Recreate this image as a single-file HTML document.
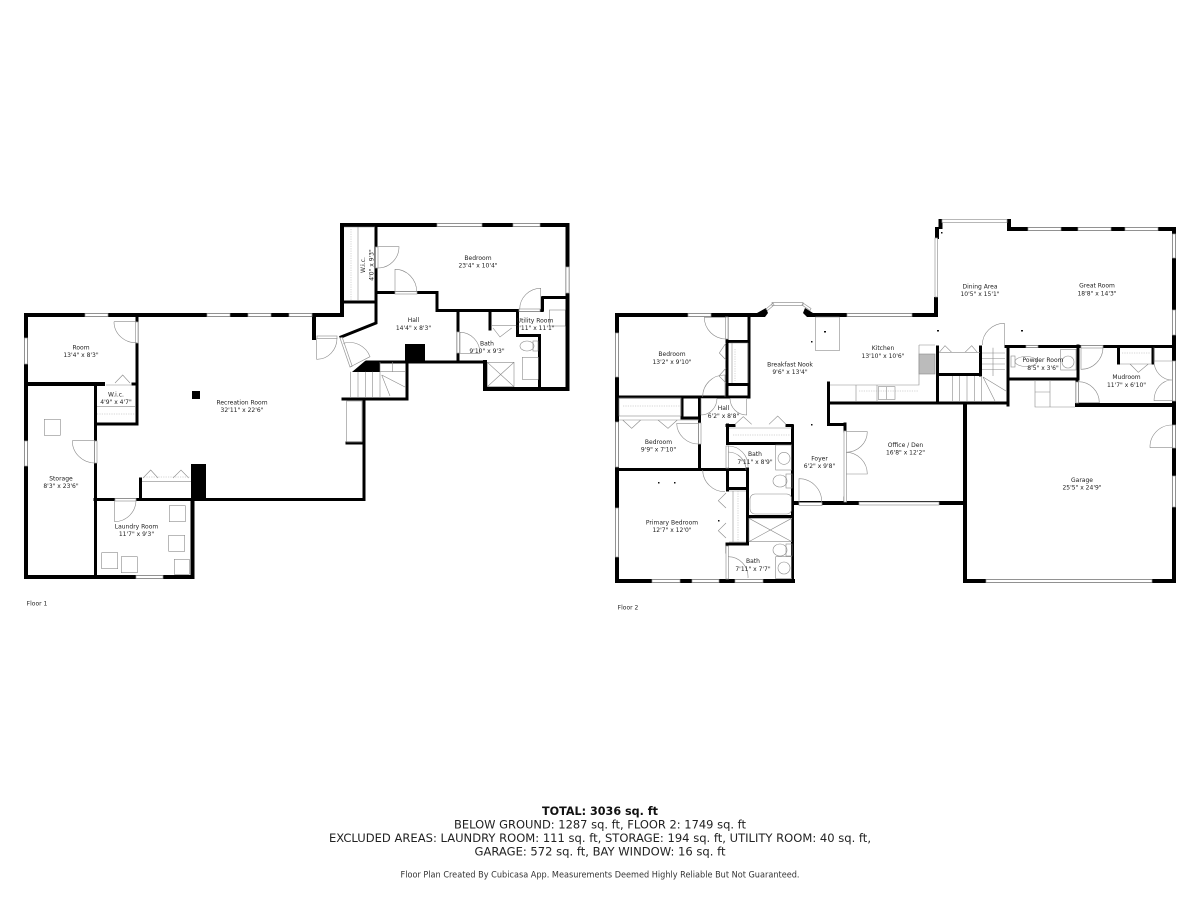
<!DOCTYPE html>
<html><head><meta charset="utf-8"><style>
html,body{margin:0;padding:0;background:#fff}svg{display:block;filter:blur(.3px)}
text{font-family:"DejaVu Sans",sans-serif;fill:#222;font-size:6px;text-anchor:middle}
.w{fill:none;stroke:#000;stroke-linecap:square;stroke-linejoin:miter}
.g{fill:none;stroke:#8a8a8a;stroke-width:.6}
.win{fill:#fff;stroke:#999;stroke-width:.7}
.d{fill:none;stroke:#aaa;stroke-width:.5;stroke-dasharray:1.2 1.2}
</style></head><body>
<svg width="1200" height="900" viewBox="0 0 1200 900" xmlns="http://www.w3.org/2000/svg">
<rect width="1200" height="900" fill="#fff"/>

<!-- FLOOR 1 walls -->
<g class="w" stroke-width="4">
<path d="M26 315H342M26 315V577H192.500V500M26 384H103"/>
<path d="M342 225H567.500V389H485V362M342 225V315H314V338"/>
</g>
<g class="w" stroke-width="3">
<path d="M95.500 385V577M137 315V424H97M95 499.500H364M140.500 479V498M364 400V499M407 362V399H343M367 362H485"/>
<path d="M376 226V323L341 337M343 302H375M377 292.500H437V310.500H542M458 311V361M490 311V329M517.500 311V335.500H539.500V388M543 297.500H566M542.500 298V310M347 443H362M133 384H135"/>
</g>
<path fill="#000" d="M191 464h15v36h-15zM192 391h8v8h-8zM405 344h20v19h-20zM365 361h15v11h-28z"/>

<!-- FLOOR 1 windows -->
<g class="win">
<rect x="85" y="313.500" width="23" height="3"/><rect x="207" y="313.500" width="23" height="3"/><rect x="248" y="313.500" width="23" height="3"/><rect x="289" y="313.500" width="23" height="3"/>
<rect x="24.500" y="338" width="3" height="26"/><rect x="24.500" y="441" width="3" height="25"/>
<rect x="136" y="575.500" width="27" height="3"/>
<rect x="437" y="223.500" width="45" height="3"/><rect x="513" y="223.500" width="27" height="3"/>
<rect x="566" y="267" width="3" height="26"/>
<rect x="135.500" y="322" width="2.500" height="21"/><rect x="94.500" y="441" width="2.500" height="22"/><rect x="115" y="498.500" width="21" height="2.500"/>
<rect x="375.500" y="247" width="2.500" height="21"/><rect x="395" y="291.500" width="22" height="2.500"/><rect x="519" y="309" width="21" height="2.500"/><rect x="457" y="332" width="2.500" height="21"/><rect x="317" y="336" width="20" height="2.500"/>
<path d="M340 338L350 367l2.200-.8L342.200 337.300z"/>
</g>

<!-- FLOOR 1 doors / fixtures -->
<g class="g">
<path d="M114 321.700H136.700M114 321.700A22 21 0 0 0 136.700 342.700"/>
<path d="M72.300 440.700H95M72.300 440.700A22.700 22.300 0 0 0 95 463"/>
<path d="M114.700 500V521.700A21.500 21.700 0 0 0 136 500"/>
<path d="M378 246.700H399A21 21.300 0 0 1 378 268"/>
<path d="M395 291.700V269.300A21.700 22.400 0 0 1 416.700 291.700"/>
<path d="M540.700 309.300V288.300A21 21 0 0 0 519.700 309.300"/>
<path d="M460 332.300V353.300H480A20 21 0 0 0 460 332.300"/>
<path d="M316.700 338V359.300A20 21 0 0 0 337 338"/>
<path d="M350 367L370 356.700A22 22 0 0 0 343.300 343.300"/>
<path d="M115 383L122.700 375 130 383M106 385H131M143 478L150.700 470 158 478M173 478L181 470 188.700 478M142 481.700H191"/>
<path d="M97 406.700H135"/>
<rect x="44.300" y="419.300" width="16" height="16"/><rect x="169.300" y="505.700" width="16" height="16"/><rect x="168.700" y="535.300" width="16" height="16"/><rect x="101.700" y="552.700" width="16" height="16"/><rect x="121.300" y="556.700" width="16" height="16"/><rect x="174.300" y="559.300" width="15" height="15"/>
<rect x="346.700" y="401" width="15.300" height="41"/>
<path d="M350.700 371.700V397M358 371.700V397M365.300 371.700V397M372.700 371.700V397M380 362V397M380 371.700H405M392.500 362V371.700M381.700 375L405 387M381.700 375L390 396"/>
<path d="M344 227H375M358 227V300"/>
<path d="M487.300 362.300H514V386.700H487.300zM487.300 362.300L514 386.700M514 362.300L487.300 386.700"/>
<rect x="522.300" y="357.300" width="16" height="22"/><ellipse cx="527" cy="346" rx="7" ry="5"/><rect x="533" y="341" width="5" height="10"/>
<rect x="549.300" y="310" width="16" height="16"/>
<path d="M492 325.700H516M493 328L500 337 511.700 328"/>
</g>
<path class="d" d="M97 414H135M144 477H190"/>
<path class="d" d="M351 229V300"/>

<!-- FLOOR 2 walls -->
<g class="w" stroke-width="4">
<path d="M617 315V581H793M617 315H756M814 315H936M936 315V299M937 229V237M940.500 221V227M1009 221V229H1174V581H965V405M1174 405H1077M793 503H961"/>
</g>
<g class="w" stroke-width="3">
<path d="M792.500 426V581M749 317V397H619.500M727 317V396M727 341.500H748M727 384.500H748M682 398V418H699.500M699.500 397V468M619 469.500H746M747.500 469V544M727.500 469V490M727.500 488.500H747M727 544H747M727 544V552M727.500 425V443.500H792M727 425.500H734M787 425.500H792M748 516.500H792"/>
<path d="M828.500 383V424.500H845M845 424V431M845 498V503M828.500 403H1008M1008 405V347M1006 346.500H1078M1078 346V379H1008M1077 380V405M1080 346.500H1172M1118.500 347V363M1153 347V363M937.500 347V401M939 374.500H980M980.500 347V375"/>
</g>
<path fill="#000" d="M757 313l9-5 2 5-3 4h-8zM805 308l8 5h6v4h-12l-4-4z"/>

<!-- FLOOR 2 windows -->
<g class="win">
<rect x="688" y="313.500" width="23" height="3"/><rect x="847" y="313.500" width="65" height="3"/>
<path d="M766 309L773 303l1 2-6.500 5.500zM772 302.500h31v3h-31zM803 303l8 5.500-1 2-8-5.500z"/>
<rect x="942" y="219.500" width="65" height="3"/><rect x="1028" y="227.500" width="33" height="3"/><rect x="1078" y="227.500" width="33" height="3"/><rect x="1125" y="227.500" width="33" height="3"/>
<rect x="1172.500" y="234" width="3" height="24"/><rect x="1172.500" y="310" width="3" height="25"/><rect x="1172.500" y="425" width="3" height="23"/><rect x="1172.500" y="476" width="3" height="31"/><rect x="1172.500" y="361" width="3" height="40"/>
<rect x="986" y="579.500" width="166" height="3"/><rect x="859" y="502" width="80" height="3"/><rect x="799" y="502.500" width="23" height="3"/>
<rect x="615.500" y="333" width="3" height="44"/><rect x="615.500" y="422" width="3" height="45"/><rect x="615.500" y="508" width="3" height="49"/>
<rect x="652" y="579.500" width="28" height="3"/><rect x="692" y="579.500" width="27" height="3"/><rect x="735" y="579.500" width="28" height="3"/>
<rect x="935" y="238" width="2.500" height="59"/>
<rect x="844" y="431" width="2.500" height="71"/>
<rect x="1026" y="345.500" width="12" height="2"/><rect x="1081" y="345.500" width="22" height="2.500"/>
<rect x="725.500" y="317" width="2.500" height="22"/><rect x="698.500" y="423" width="2.500" height="21"/><rect x="1076" y="382" width="2.500" height="21"/>
<rect x="726" y="446" width="2.500" height="22"/><rect x="726" y="546" width="2.500" height="33"/>
</g>

<!-- FLOOR 2 doors / fixtures -->
<g class="g">
<path d="M704.300 317.300H726M704.300 317.300A21.700 21.700 0 0 0 726 339"/>
<path d="M725 396.700V375A21.700 21.700 0 0 0 702.700 396.700"/>
<path d="M717 398.300H701V415A16 16.700 0 0 0 717 398.300M730 398.300H746.700V415A16.700 16.700 0 0 1 730 398.300"/>
<path d="M676.700 423.300H699M676.700 423.300A22 21 0 0 0 699 444"/>
<path d="M702.700 470A22 22 0 0 0 725 491.700"/>
<path d="M726 343L719.300 353 726 360M726 368L719 376 726 383"/>
<path d="M622.700 420L631.700 428.300 640.700 420M658 420L668 428.300 677.300 420M619 420H699"/>
<path d="M726 493L718.300 500.700 726 508M726 523L718.300 530.700 726 538"/>
<rect x="619" y="398" width="62" height="18"/>
<path d="M729 343H748M732 343V383M748 343V383"/>
<path d="M729 491H746M729 542H746M733 491V542"/>
<path d="M728 446A20 20 0 0 1 748 466.700M728 452A18 18 0 0 1 746 470M728 556.700A20 20 0 0 1 748 578"/>
<path d="M729 428H792"/>
<path d="M735 424.300L743.300 416.700 751.700 424.300M769 424.300L777.700 416 786 424.300"/>
<rect x="775.700" y="445" width="16" height="25"/><circle cx="784" cy="458.300" r="6"/>
<ellipse cx="780" cy="481" rx="7" ry="6"/><rect x="786" y="474" width="6" height="14"/>
<rect x="750" y="494" width="41.700" height="20" rx="5"/>
<path d="M749 518.300H791.700V541.600H749zM749 518.300L791.700 541.600M791.700 518.300L749 541.600"/>
<ellipse cx="780" cy="550" rx="7" ry="6"/><rect x="786" y="544" width="6" height="12"/>
<rect x="775.700" y="556.700" width="16" height="22"/><circle cx="784" cy="568" r="6"/>
<path d="M799 502V478.700A22.700 23 0 0 1 821.700 502"/>
<rect x="815.700" y="317" width="23.600" height="33.700"/>
<path d="M919 345H935M919 345V385H830M856 385V401M877 385V401"/>
<rect x="878.300" y="386.700" width="16.700" height="12.700"/><path d="M886.500 386.700V399.400"/>
<rect x="919" y="354" width="16" height="20" fill="#bbb"/>
<path d="M939.300 352.300L945 345.700 951.700 352.300M965 352.300L971.700 345.700 977.300 352.300M939 352.300H980"/>
<path d="M1004.300 345V323.300A22 21.700 0 0 0 982.300 345"/>
<path d="M982 353H1005M982 358.500H1005M982 364H1005M982 369.500H1005M993 347.700V376"/>
<path d="M952.300 376V401M959.700 376V401M967 376V401M974.300 376V401M981.700 376V401M983 377L1006 391M983 377L995 401"/>
<rect x="1011" y="356" width="4" height="11"/><ellipse cx="1026" cy="361.500" rx="11" ry="5"/>
<rect x="1060.700" y="349.300" width="15.300" height="20.700"/><circle cx="1068" cy="362" r="6"/>
<path d="M1081 347.300V369.300A22 22 0 0 0 1103 347.300"/>
<path d="M1078.300 381.700V402.700H1099.300A21 21 0 0 0 1078.300 381.700"/>
<path d="M1154 361H1172M1154 361A18 19 0 0 0 1172 380M1154 400.700H1172M1154 400.700A18 20.700 0 0 1 1172 380"/>
<path d="M1154 347.500V361M1130 364L1138.300 372.300 1148.300 364M1120 364H1152"/>
<path d="M1035 380V407H1075M1050 380V407M1035 392H1050"/>
<path d="M846 431.700H867.300A21.300 20.700 0 0 1 846 452.300A21.300 21.700 0 0 1 867.300 474H846"/>
<path d="M1150 447.700H1172M1150 447.700A22 22 0 0 1 1172 425"/>
</g>
<path class="d" d="M623 406H680M735 349V381M733 435H790M738 491V542M1122 353H1150M859 391H919"/>
<path fill="#111" d="M811 424h1.500v1.500h-1.500zM811 341h1.500v1.500h-1.500zM941 232h1.500v1.500h-1.500zM824 331h2v1.500h-2zM937 330h2v1.500h-2zM1021 330h2v1.500h-2zM658 482h1.500v1.500h-1.500zM674 482h1.500v1.500h-1.500zM718 520h1.500v1.500h-1.500z"/>

<!-- Labels -->
<text x="478" y="260">Bedroom</text><text x="478" y="267.500">23'4" x 10'4"</text>
<text x="81" y="349.500">Room</text><text x="81" y="357">13'4" x 8'3"</text>
<text x="116" y="396.500">W.i.c.</text><text x="116" y="404">4'9" x 4'7"</text>
<text x="242" y="404.500">Recreation Room</text><text x="242" y="412">32'11" x 22'6"</text>
<text x="61" y="480.500">Storage</text><text x="61" y="488">8'3" x 23'6"</text>
<text x="136.500" y="528.500">Laundry Room</text><text x="136.500" y="536">11'7" x 9'3"</text>
<text x="413.500" y="322">Hall</text><text x="413.500" y="330">14'4" x 8'3"</text>
<text x="487" y="345.500">Bath</text><text x="487" y="353">9'10" x 9'3"</text>
<text x="535" y="322.500">Utility Room</text><text x="535" y="330">7'11" x 11'1"</text>
<text transform="translate(365 265) rotate(-90)">W.i.c.</text><text transform="translate(373.500 265) rotate(-90)">4'0" x 9'3"</text>
<text x="672" y="356">Bedroom</text><text x="672" y="364">13'2" x 9'10"</text>
<text x="658.500" y="444">Bedroom</text><text x="658.500" y="451.500">9'9" x 7'10"</text>
<text x="672" y="524.500">Primary Bedroom</text><text x="672" y="532">12'7" x 12'0"</text>
<text x="723.500" y="410">Hall</text><text x="723.500" y="418">6'2" x 8'8"</text>
<text x="755" y="456">Bath</text><text x="755" y="464">7'11" x 8'9"</text>
<text x="753" y="563">Bath</text><text x="753" y="571">7'11" x 7'7"</text>
<text x="790" y="366.500">Breakfast Nook</text><text x="790" y="374">9'6" x 13'4"</text>
<text x="819.500" y="460.500">Foyer</text><text x="819.500" y="468">6'2" x 9'8"</text>
<text x="883" y="350">Kitchen</text><text x="883" y="358">13'10" x 10'6"</text>
<text x="980" y="288.500">Dining Area</text><text x="980" y="296">10'5" x 15'1"</text>
<text x="1097" y="287.500">Great Room</text><text x="1097" y="295.500">18'8" x 14'3"</text>
<text x="1043" y="362">Powder Room</text><text x="1043" y="370">8'5" x 3'6"</text>
<text x="1126.500" y="379">Mudroom</text><text x="1126.500" y="387">11'7" x 6'10"</text>
<text x="905.500" y="447">Office / Den</text><text x="905.500" y="454.500">16'8" x 12'2"</text>
<text x="1082" y="482">Garage</text><text x="1082" y="489.500">25'5" x 24'9"</text>
<text x="37" y="605.500">Floor 1</text><text x="628" y="609.500">Floor 2</text>

<!-- Footer -->
<text x="600" y="815" style="font-size:11.500px;font-weight:bold;fill:#111" textLength="116" lengthAdjust="spacingAndGlyphs">TOTAL: 3036 sq. ft</text>
<text x="600" y="828.500" style="font-size:11.500px;fill:#222" textLength="292" lengthAdjust="spacingAndGlyphs">BELOW GROUND: 1287 sq. ft, FLOOR 2: 1749 sq. ft</text>
<text x="600" y="842" style="font-size:11.500px;fill:#222" textLength="542" lengthAdjust="spacingAndGlyphs">EXCLUDED AREAS: LAUNDRY ROOM: 111 sq. ft, STORAGE: 194 sq. ft, UTILITY ROOM: 40 sq. ft,</text>
<text x="600" y="855.500" style="font-size:11.500px;fill:#222" textLength="251" lengthAdjust="spacingAndGlyphs">GARAGE: 572 sq. ft, BAY WINDOW: 16 sq. ft</text>
<text x="600" y="877.500" style="font-size:8.500px;fill:#333" textLength="399" lengthAdjust="spacingAndGlyphs">Floor Plan Created By Cubicasa App. Measurements Deemed Highly Reliable But Not Guaranteed.</text>
</svg>
</body></html>
